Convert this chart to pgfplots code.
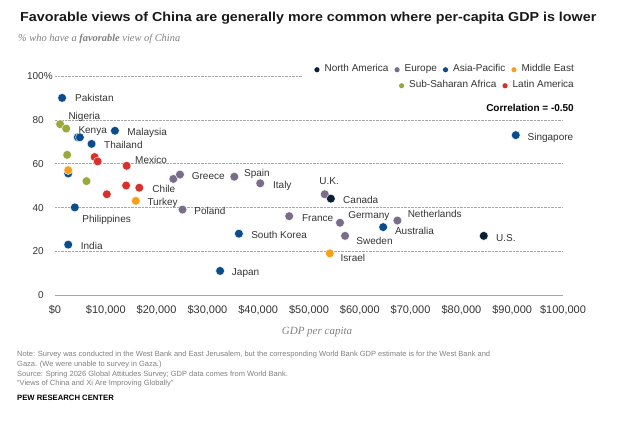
\documentclass[border=0pt]{standalone}
\usepackage{pgfplots}
\pgfplotsset{compat=1.18}
\usepackage{fontspec}
\setmainfont{Liberation Sans}
\newfontfamily\seriffont{Liberation Serif}
\newfontfamily\titlefont[FakeStretch=1.1]{Liberation Sans}
\definecolor{na}{HTML}{0A1F33}
\definecolor{eu}{HTML}{7B6C87}
\definecolor{ap}{HTML}{0B4C8C}
\definecolor{me}{HTML}{F6A01A}
\definecolor{ssa}{HTML}{9AA83E}
\definecolor{la}{HTML}{D8302A}
\definecolor{txt}{HTML}{333333}
\definecolor{notegray}{HTML}{7F7F7F}
\newcommand\ldot[1]{\tikz[baseline=-0.35ex]\fill[#1] (0,0) circle (2.6pt);}
\tikzset{lbl/.style={font=\fontsize{10}{12}\selectfont, text=txt, inner sep=0pt, anchor=west, text height=7.2pt, text depth=0pt}}
\begin{document}
\begin{tikzpicture}
\useasboundingbox (0,0) rectangle (618pt,421pt);
\begin{axis}[
  at={(55pt,126pt)}, anchor=south west,
  scale only axis, width=508pt, height=219pt,
  xmin=0, xmax=100000, ymin=0, ymax=100,
  clip=false,
  scaled x ticks=false,
  axis x line*=bottom, axis y line*=left,
  x axis line style={-, draw=gray!70, line width=0.6pt},
  y axis line style={draw=none},
  major tick length=0pt,
  xtick={0,10000,20000,30000,40000,50000,60000,70000,80000,90000,100000},
  xticklabels={{\$0},{\$10,000},{\$20,000},{\$30,000},{\$40,000},{\$50,000},{\$60,000},{\$70,000},{\$80,000},{\$90,000},{\$100,000}},
  xticklabel style={font=\fontsize{11}{12}\selectfont, text=txt, anchor=center, inner sep=0pt, text height=8pt, text depth=0pt, yshift=-14pt},
  ytick={0,20,40,60,80,100},
  yticklabels={0,20,40,60,80,100\rlap{\%}},
  yticklabel style={font=\fontsize{10}{12}\selectfont, text=txt, anchor=east, inner sep=0pt, text height=7.2pt, text depth=0pt, xshift=-11pt},
  ymajorgrids,
  major grid style={densely dotted, gray!70, line width=0.5pt},
]
\pgfplotsset{dots/.style={only marks, mark=*, mark size=4.4pt, mark options={fill=#1, draw=white, line width=0.4pt}}}
% Europe
\addplot[dots=eu] coordinates {(23300,53) (24600,55) (35300,54) (40400,51) (25100,39) (46100,36) (53100,46) (56100,33) (57100,27) (67400,34)};
% Asia-Pacific
\addplot[dots=ap] coordinates {(1400,90) (4500,72) (4900,72) (11800,75) (7200,69) (2600,55.5) (3900,40) (2600,23) (36200,28) (32500,11) (64600,31) (90700,73)};
% Middle East
\addplot[dots=me] coordinates {(2600,57) (15900,43) (54100,19)};
% Sub-Saharan Africa
\addplot[dots=ssa] coordinates {(1000,78) (2200,76) (2400,64) (6200,52)};
% Latin America
\addplot[dots=la] coordinates {(7800,63) (8400,61) (14100,59) (14000,50) (16600,49) (10200,46)};
% North America
\addplot[dots=na] coordinates {(54300,44) (84400,27)};
% labels
\node[lbl] at (axis cs:3940,89.8) {Pakistan};
\node[lbl] at (axis cs:2620,81.7) {Nigeria};
\node[lbl] at (axis cs:4590,75.6) {Kenya};
\node[lbl] at (axis cs:14230,74.3) {Malaysia};
\node[lbl] at (axis cs:9650,68.5) {Thailand};
\node[lbl] at (axis cs:15750,61.9) {Mexico};
\node[lbl] at (axis cs:19150,48.4) {Chile};
\node[lbl] at (axis cs:18170,42.3) {Turkey};
\node[lbl] at (axis cs:5370,34.7) {Philippines};
\node[lbl] at (axis cs:5060,22.5) {India};
\node[lbl] at (axis cs:26900,54.3) {Greece};
\node[lbl] at (axis cs:37200,55.6) {Spain};
\node[lbl] at (axis cs:42900,50.5) {Italy};
\node[lbl] at (axis cs:27400,38.5) {Poland};
\node[lbl] at (axis cs:38600,27.4) {South Korea};
\node[lbl] at (axis cs:34800,10.4) {Japan};
\node[lbl] at (axis cs:48600,35.3) {France};
\node[lbl] at (axis cs:52000,52.2) {U.K.};
\node[lbl] at (axis cs:56700,43.4) {Canada};
\node[lbl] at (axis cs:57700,36.5) {Germany};
\node[lbl] at (axis cs:69400,36.9) {Netherlands};
\node[lbl] at (axis cs:66900,29.3) {Australia};
\node[lbl] at (axis cs:59300,24.8) {Sweden};
\node[lbl] at (axis cs:56200,16.8) {Israel};
\node[lbl] at (axis cs:86800,26.3) {U.S.};
\node[lbl] at (axis cs:93000,72.3) {Singapore};
\end{axis}
% legend background
\fill[white] (303pt,329pt) rectangle (580pt,361pt);
\begin{scope}[every node/.style={font=\fontsize{10}{12}\selectfont, text=txt, inner sep=0pt}]
\node[anchor=base east] at (574pt,349.4pt) {\ldot{na}\hspace{5pt}North America\hspace{6pt}\ldot{eu}\hspace{5pt}Europe\hspace{6pt}\ldot{ap}\hspace{5pt}Asia-Pacific\hspace{6pt}\ldot{me}\hspace{5pt}Middle East};
\node[anchor=base east] at (574pt,333.4pt) {\ldot{ssa}\hspace{5pt}Sub-Saharan Africa\hspace{6pt}\ldot{la}\hspace{5pt}Latin America};
\node[anchor=base east, font=\fontsize{10}{12}\selectfont\bfseries, text=black] at (574pt,309.4pt) {Correlation = -0.50};
% title etc.
\node[anchor=base west, font=\titlefont\fontsize{13}{15}\selectfont\bfseries, text=black!90] at (20pt,399pt) {Favorable views of China are generally more common where per-capita GDP is lower};
\node[anchor=base west, font=\seriffont\fontsize{10.4}{12}\selectfont\itshape, text=gray] at (18pt,379pt) {\% who have a \textbf{favorable} view of China};
\node[anchor=center, font=\seriffont\fontsize{11}{13}\selectfont\itshape, text=gray] at (317pt,89pt) {GDP per capita};
\node[anchor=base west, font=\fontsize{7.5}{9}\selectfont, text=notegray] at (17pt,64.3pt) {Note: Survey was conducted in the West Bank and East Jerusalem, but the corresponding World Bank GDP estimate is for the West Bank and};
\node[anchor=base west, font=\fontsize{7.5}{9}\selectfont, text=notegray] at (17pt,54.3pt) {Gaza. (We were unable to survey in Gaza.)};
\node[anchor=base west, font=\fontsize{7.5}{9}\selectfont, text=notegray] at (17pt,44.3pt) {Source: Spring 2026 Global Attitudes Survey; GDP data comes from World Bank.};
\node[anchor=base west, font=\fontsize{7.5}{9}\selectfont, text=notegray] at (17pt,35.3pt) {``Views of China and Xi Are Improving Globally''};
\node[anchor=base west, font=\fontsize{7.7}{9}\selectfont\bfseries, text=black] at (17pt,21pt) {PEW RESEARCH CENTER};
\end{scope}
\end{tikzpicture}
\end{document}
